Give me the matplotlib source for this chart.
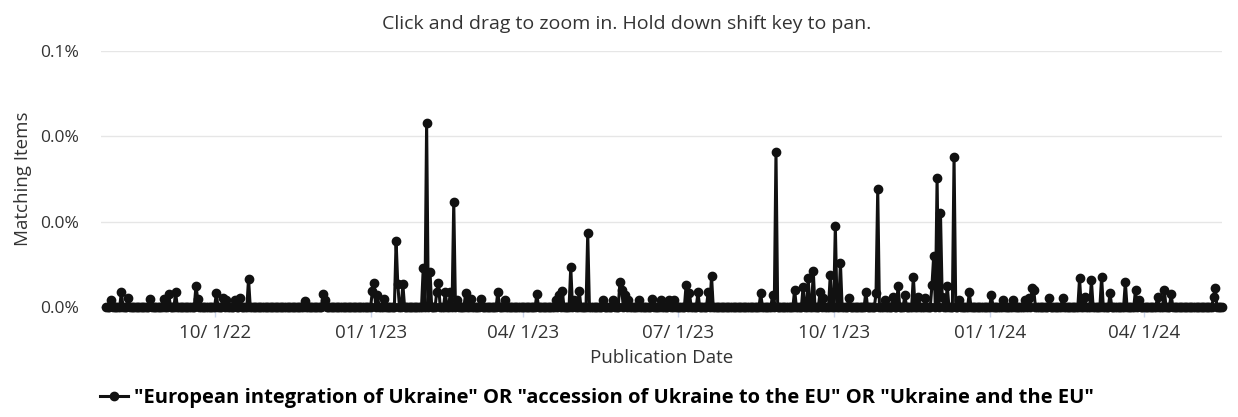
import matplotlib
matplotlib.use("Agg")

import matplotlib.pyplot as plt
import matplotlib.dates as mdates
import matplotlib.ticker as mticker
import pandas as pd
from matplotlib.lines import Line2D

plt.rcParams["font.family"] = ["Open Sans", "DejaVu Sans"]

# -- data: daily share of matching items (in %), zero on days not listed --
AXIS_START = "2022-07-26"
START = "2022-07-29"
END = "2024-05-17"

spike_dates = [
    "2022-08-01", "2022-08-07", "2022-08-11", "2022-08-24", "2022-09-01",
    "2022-09-04", "2022-09-08", "2022-09-20", "2022-09-21", "2022-10-02",
    "2022-10-06", "2022-10-08", "2022-10-13", "2022-10-16", "2022-10-21",
    "2022-11-23", "2022-12-04", "2022-12-05", "2023-01-02", "2023-01-03",
    "2023-01-05", "2023-01-09", "2023-01-16", "2023-01-17", "2023-01-20",
    "2023-02-01", "2023-02-03", "2023-02-05", "2023-02-09", "2023-02-10",
    "2023-02-14", "2023-02-17", "2023-02-19", "2023-02-21", "2023-02-26",
    "2023-03-01", "2023-03-07", "2023-03-17", "2023-03-21", "2023-04-09",
    "2023-04-20", "2023-04-22", "2023-04-24", "2023-04-29", "2023-05-01",
    "2023-05-04", "2023-05-09", "2023-05-18", "2023-05-24", "2023-05-28",
    "2023-05-29", "2023-05-31", "2023-06-02", "2023-06-08", "2023-06-16",
    "2023-06-21", "2023-06-26", "2023-06-29", "2023-07-06", "2023-07-08",
    "2023-07-13", "2023-07-19", "2023-07-21", "2023-08-19", "2023-08-26",
    "2023-08-28", "2023-09-08", "2023-09-13", "2023-09-16", "2023-09-19",
    "2023-09-23", "2023-09-25", "2023-09-29", "2023-10-02", "2023-10-05",
    "2023-10-10", "2023-10-20", "2023-10-26", "2023-10-27", "2023-10-31",
    "2023-11-05", "2023-11-08", "2023-11-12", "2023-11-17", "2023-11-20",
    "2023-11-24", "2023-11-28", "2023-11-29", "2023-12-01", "2023-12-03",
    "2023-12-04", "2023-12-07", "2023-12-11", "2023-12-14", "2023-12-20",
    "2024-01-02", "2024-01-09", "2024-01-15", "2024-01-22", "2024-01-24",
    "2024-01-26", "2024-01-27", "2024-02-05", "2024-02-13", "2024-02-23",
    "2024-02-26", "2024-03-01", "2024-03-07", "2024-03-12", "2024-03-21",
    "2024-03-27", "2024-03-29", "2024-04-09", "2024-04-13", "2024-04-17",
    "2024-05-12", "2024-05-13",
]
spike_values = [
    0.0016, 0.0034, 0.0020, 0.0018, 0.0019,
    0.0030, 0.0034, 0.0050, 0.0019, 0.0032,
    0.0021, 0.0016, 0.0016, 0.0021, 0.0066,
    0.0015, 0.0030, 0.0016, 0.0037, 0.0056,
    0.0028, 0.0018, 0.0155, 0.0053, 0.0053,
    0.0091, 0.0432, 0.0083, 0.0036, 0.0056,
    0.0036, 0.0036, 0.0247, 0.0016, 0.0032,
    0.0018, 0.0018, 0.0036, 0.0016, 0.0030,
    0.0016, 0.0028, 0.0038, 0.0094, 0.0016,
    0.0038, 0.0173, 0.0016, 0.0016, 0.0059,
    0.0041, 0.0028, 0.0016, 0.0016, 0.0018,
    0.0016, 0.0016, 0.0016, 0.0052, 0.0032,
    0.0034, 0.0034, 0.0073, 0.0032, 0.0028,
    0.0364, 0.0041, 0.0048, 0.0069, 0.0084,
    0.0036, 0.0020, 0.0075, 0.0190, 0.0104,
    0.0020, 0.0036, 0.0032, 0.0276, 0.0016,
    0.0024, 0.0049, 0.0028, 0.0071, 0.0024,
    0.0020, 0.0052, 0.0120, 0.0302, 0.0221,
    0.0024, 0.0049, 0.0352, 0.0016, 0.0034,
    0.0028, 0.0016, 0.0016, 0.0016, 0.0020,
    0.0044, 0.0040, 0.0020, 0.0020, 0.0067,
    0.0024, 0.0063, 0.0071, 0.0032, 0.0059,
    0.0041, 0.0016, 0.0024, 0.0040, 0.0030,
    0.0024, 0.0044,
]

y_ticks = [0.0, 0.02, 0.04, 0.06]
SERIES_LABEL = ('"European integration of Ukraine" OR "accession of Ukraine to the EU" '
                'OR "Ukraine and the EU"')

days = pd.date_range(START, END, freq="D")
series = pd.Series(0.0, index=days)
series.loc[pd.to_datetime(spike_dates)] = spike_values

W, H = 1238, 417
fig = plt.figure(figsize=(W / 100, H / 100), dpi=100)
ax = fig.add_axes([101 / W, 1 - 307 / H, (1222 - 101) / W, (307 - 51) / H])

ax.plot(series.index, series.values, color="#111111", linewidth=2.2,
        marker="o", markersize=6, clip_on=False, zorder=3)

ax.set_xlim(pd.Timestamp(AXIS_START), pd.Timestamp(END))
ax.set_ylim(y_ticks[0], y_ticks[-1])
ax.set_yticks(y_ticks)
ax.yaxis.set_major_formatter(mticker.FuncFormatter(lambda v, _: f"{v:.1f}%"))
ax.xaxis.set_major_locator(mdates.MonthLocator(bymonth=[1, 4, 7, 10]))
ax.xaxis.set_major_formatter(mdates.DateFormatter("%m/%e/%y"))

ax.grid(axis="y", color="#e6e6e6", linewidth=1.0)
ax.set_axisbelow(True)
for side in ("top", "right", "left"):
    ax.spines[side].set_visible(False)
ax.spines["bottom"].set_color("#ccd6eb")
ax.tick_params(axis="y", length=0, pad=16, labelsize=12.5, colors="#333333")
ax.tick_params(axis="x", length=7, width=1, color="#ccd6eb", pad=5,
               labelsize=13.5, labelcolor="#333333")

ax.set_xlabel("Publication Date", fontsize=13.5, color="#333333", labelpad=5)
ax.set_ylabel("Matching Items", fontsize=13.5, color="#333333", labelpad=6)

fig.text(627 / W, 1 - 24 / H, "Click and drag to zoom in. Hold down shift key to pan.",
         ha="center", va="center", fontsize=14, color="#333333")

handle = Line2D([], [], color="#111111", linewidth=2.2, marker="o", markersize=6)
fig.legend([handle], [SERIES_LABEL], loc="center", bbox_to_anchor=(597 / W, 1 - 398 / H),
           frameon=False, handlelength=1.4, handletextpad=0.3,
           prop={"weight": "bold", "size": 14.5})

fig.savefig("out.png", dpi=100, facecolor="white")
plt.close(fig)
